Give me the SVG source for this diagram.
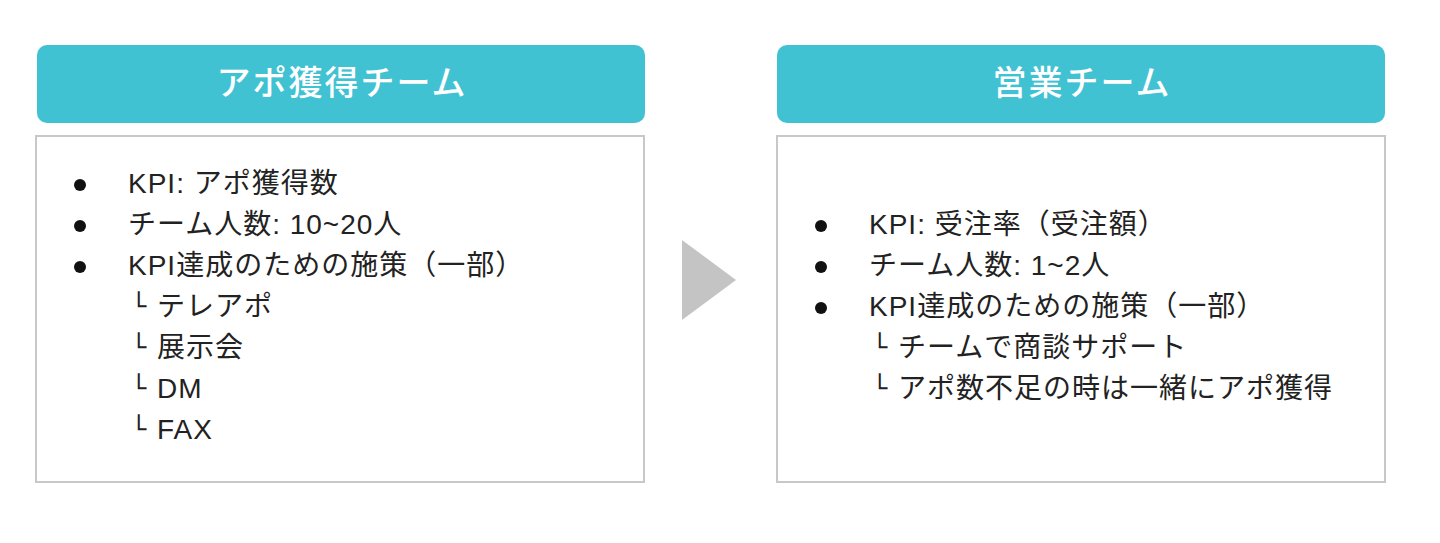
<svg xmlns="http://www.w3.org/2000/svg" width="1440" height="543" viewBox="0 0 1440 543">
<defs>
<style>
.hdr{fill:#41c2d3}
.hdrt{fill:#ffffff;font-family:"Noto Sans CJK JP","Liberation Sans",sans-serif;font-size:34px;font-weight:500;letter-spacing:2px;text-anchor:middle}
.box{fill:#ffffff;stroke:#c8c8c8;stroke-width:2}
.t{fill:#222222;font-family:"Liberation Sans","Noto Sans CJK JP",sans-serif;font-size:28px;letter-spacing:1px}
.sub{fill:#222222;font-family:"DejaVu Sans","Noto Sans CJK JP",sans-serif;font-size:25px}
.dot{fill:#111111}
</style>
</defs>
<rect width="1440" height="543" fill="#ffffff"/>
<g id="node-apo">
<rect class="hdr" x="37" y="45" width="608" height="78" rx="10"/>
<text class="hdrt" x="342" y="95">アポ獲得チーム</text>
<rect class="box" x="36" y="136" width="608" height="346"/>
<circle class="dot" cx="80" cy="185" r="6"/>
<text class="t" x="128" y="193">KPI: アポ獲得数</text>
<circle class="dot" cx="80" cy="226" r="6"/>
<text class="t" x="128" y="234">チーム人数: 10~20人</text>
<circle class="dot" cx="80" cy="267" r="6"/>
<text class="t" x="128" y="275">KPI達成のための施策（一部）</text>
<text class="sub" x="131" y="315">└</text>
<text class="t" x="157" y="316">テレアポ</text>
<text class="sub" x="131" y="356">└</text>
<text class="t" x="157" y="357">展示会</text>
<text class="sub" x="131" y="397">└</text>
<text class="t" x="157" y="398">DM</text>
<text class="sub" x="131" y="438">└</text>
<text class="t" x="157" y="439">FAX</text>
</g>
<g id="node-sales">
<rect class="hdr" x="777" y="45" width="608" height="78" rx="10"/>
<text class="hdrt" x="1082" y="95">営業チーム</text>
<rect class="box" x="777" y="136" width="608" height="346"/>
<circle class="dot" cx="821" cy="226" r="6"/>
<text class="t" x="869" y="234">KPI: 受注率（受注額）</text>
<circle class="dot" cx="821" cy="267" r="6"/>
<text class="t" x="869" y="275">チーム人数: 1~2人</text>
<circle class="dot" cx="821" cy="308" r="6"/>
<text class="t" x="869" y="316">KPI達成のための施策（一部）</text>
<text class="sub" x="872" y="356">└</text>
<text class="t" x="898" y="357">チームで商談サポート</text>
<text class="sub" x="872" y="397">└</text>
<text class="t" x="898" y="398">アポ数不足の時は一緒にアポ獲得</text>
</g>
<g id="connectors">
<polygon points="682,240 736,280 682,320" fill="#c4c4c4"/>
</g>
</svg>
